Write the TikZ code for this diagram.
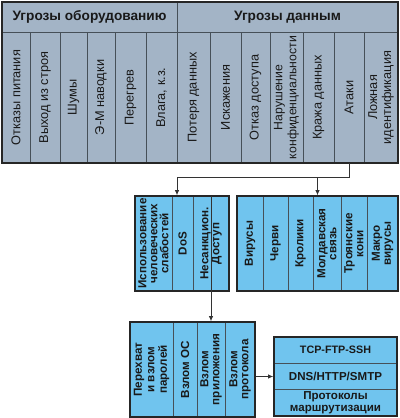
\documentclass[tikz,border=0pt]{standalone}
\usepackage{fontspec}
\setmainfont{Liberation Sans}
\usetikzlibrary{arrows.meta}
\definecolor{topfill}{RGB}{163,180,198}
\definecolor{bluefill}{RGB}{112,196,238}
\definecolor{divline}{RGB}{70,80,88}
\definecolor{txt}{RGB}{25,25,25}
\begin{document}
\begin{tikzpicture}[x=1bp,y=-1bp,
  tcell/.style={rotate=90, draw=divline, line width=0.8bp, fill=topfill, inner sep=0pt, align=center,
     text=txt, font=\fontsize{12.8}{14}\selectfont, minimum width=131bp},
  hcell/.style={draw=divline, line width=0.8bp, fill=topfill, inner sep=0pt, text=txt,
     font=\fontsize{13.7}{15}\bfseries\selectfont, minimum height=30bp},
  bcell/.style={rotate=90, draw=divline, line width=0.8bp, fill=bluefill, inner sep=0pt, align=center,
     text=txt, font=\fontsize{11.7}{11}\bfseries\selectfont, minimum width=95bp},
  rcell/.style={draw=divline, line width=0.8bp, fill=bluefill, inner sep=0pt, align=center,
     text=txt, font=\fontsize{11.6}{12.5}\bfseries\selectfont, minimum width=123bp},
  frame/.style={draw=black!85, line width=1.6bp, inner sep=0pt, fill=none},
  conn/.style={draw=black!80, line width=0.8bp},
  arr/.style={conn, -{Latex[length=5bp,width=4.5bp]}}]
\useasboundingbox (0,0) rectangle (400,418);

% ---------- top table ----------
\node[hcell, minimum width=175bp] (hhw) at (89.5,17) {Угрозы оборудованию};
\node[hcell, minimum width=221bp] (hdata) at (287.5,17) {Угрозы данным};
\node[tcell, minimum height=28bp] (c1) at (16,97.5) {Отказы питания};
\node[tcell, minimum height=30bp] (c2) at (45,97.5) {Выход из строя};
\node[tcell, minimum height=27bp] (c3) at (73.5,97.5) {Шумы};
\node[tcell, minimum height=28bp] (c4) at (101,97.5) {Э-М наводки};
\node[tcell, minimum height=31bp] (c5) at (130.5,97.5) {Перегрев};
\node[tcell, minimum height=31bp] (c6) at (161.5,97.5) {Влага, к.з.};
\node[tcell, minimum height=33bp] (c7) at (193.5,97.5) {Потеря данных};
\node[tcell, minimum height=31bp] (c8) at (225.5,97.5) {Искажения};
\node[tcell, minimum height=29bp] (c9) at (255.5,97.5) {Отказ доступа};
\node[tcell, minimum height=33bp, font=\fontsize{12.3}{14}\selectfont] (c10) at (286.5,97.5) {Нарушение\\конфиденциальности};
\node[tcell, minimum height=31bp] (c11) at (318.5,97.5) {Кража данных};
\node[tcell, minimum height=30bp] (ataki) at (349,97.5) {Атаки};
\node[tcell, minimum height=34bp] (c13) at (381,97.5) {Ложная\\идентификация};
\node[frame, minimum width=396bp, minimum height=161bp] (top) at (200,82.5) {};

% ---------- middle left ----------
\node[bcell, minimum height=37bp] (m1) at (153.5,243.5) {Использование\\человеческих\\слабостей};
\node[bcell, minimum height=21bp] (m2) at (182.5,243.5) {DoS};
\node[bcell, minimum height=36bp] (nsd) at (211,243.5) {Несанкцион.\\Доступ};
\node[frame, minimum width=94bp, minimum height=95bp] (midL) at (182,243.5) {};

% ---------- middle right ----------
\node[bcell, minimum height=26bp] (v1) at (250,243.5) {Вирусы};
\node[bcell, minimum height=25bp] (v2) at (275.5,243.5) {Черви};
\node[bcell, minimum height=25bp] (v3) at (300.5,243.5) {Кролики};
\node[bcell, minimum height=28bp] (v4) at (327,243.5) {Молдавская\\связь};
\node[bcell, minimum height=26bp] (v5) at (354,243.5) {Троянские\\кони};
\node[bcell, minimum height=31bp] (v6) at (382.5,243.5) {Макро\\вирусы};
\node[frame, minimum width=161bp, minimum height=95bp] (midR) at (317.5,243.5) {};

% ---------- bottom left ----------
\node[bcell, minimum height=43bp, font=\fontsize{11.7}{12.5}\bfseries\selectfont] (b1) at (151.5,369.5) {Перехват\\и взлом\\паролей};
\node[bcell, minimum height=24bp] (b2) at (185,369.5) {Взлом ОС};
\node[bcell, minimum height=28bp] (b3) at (211,369.5) {Взлом\\приложения};
\node[bcell, minimum height=30bp] (b4) at (240,369.5) {Взлом\\протокола};
\node[frame, minimum width=125bp, minimum height=95bp] (botL) at (192.5,369.5) {};

% ---------- bottom right ----------
\node[rcell, minimum height=26bp, font=\fontsize{10.8}{12}\bfseries\selectfont] (p1) at (335.5,350) {TCP-FTP-SSH};
\node[rcell, minimum height=26bp] (p2) at (335.5,376) {DNS/HTTP/SMTP};
\node[rcell, minimum height=27bp] (p3) at (335.5,402.5) {Протоколы\\маршрутизации};
\node[frame, minimum width=123bp, minimum height=79bp] (botR) at (335.5,376.5) {};

% ---------- connectors ----------
\coordinate (jl) at (177,177);
\draw[conn] (ataki.west) |- (jl);
\draw[arr] (jl) -- (jl |- midL.north);
\draw[arr] (midR.north |- jl) -- (midR.north);
\draw[arr] (nsd.east) -- (nsd.east |- botL.north);
\draw[arr] (botR.west -| botL.east) -- (botR.west);
\end{tikzpicture}
\end{document}
